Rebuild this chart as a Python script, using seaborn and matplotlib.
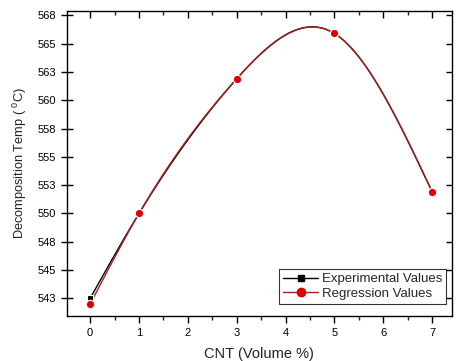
import numpy as np
import pandas as pd
import matplotlib
matplotlib.use("Agg")
import matplotlib.pyplot as plt
import seaborn as sns
from matplotlib.lines import Line2D
from matplotlib.ticker import MultipleLocator

# Data
cnt = [0, 1, 3, 5, 7]
experimental = [542.5, 550.0, 561.9, 565.9, 551.9]
regression = [542.0, 550.0, 561.9, 565.9, 551.9]
y_ticks = [542.5, 545, 547.5, 550, 552.5, 555, 557.5, 560, 562.5, 565, 567.5]
y_tick_labels = ["543", "545", "548", "550", "553", "555", "558", "560", "563", "565", "568"]
x_ticks = [0, 1, 2, 3, 4, 5, 6, 7]


def natural_spline(xs, ys, n=300):
    xs = np.asarray(xs, float)
    ys = np.asarray(ys, float)
    k = len(xs)
    h = np.diff(xs)
    A = np.zeros((k, k))
    b = np.zeros(k)
    A[0, 0] = 1
    A[-1, -1] = 1
    for i in range(1, k - 1):
        A[i, i - 1] = h[i - 1]
        A[i, i] = 2 * (h[i - 1] + h[i])
        A[i, i + 1] = h[i]
        b[i] = 6 * ((ys[i + 1] - ys[i]) / h[i] - (ys[i] - ys[i - 1]) / h[i - 1])
    M = np.linalg.solve(A, b)
    xx = np.linspace(xs[0], xs[-1], n)
    yy = np.empty_like(xx)
    for j, x in enumerate(xx):
        i = min(np.searchsorted(xs, x, side="right") - 1, k - 2)
        t1 = xs[i + 1] - x
        t0 = x - xs[i]
        yy[j] = (M[i] * t1 ** 3 / (6 * h[i]) + M[i + 1] * t0 ** 3 / (6 * h[i])
                 + (ys[i] / h[i] - M[i] * h[i] / 6) * t1
                 + (ys[i + 1] / h[i] - M[i + 1] * h[i] / 6) * t0)
    return xx, yy


sns.set_theme(style="ticks")
plt.rcParams["font.family"] = ["Liberation Sans", "DejaVu Sans"]
plt.rcParams["mathtext.fontset"] = "custom"
plt.rcParams["mathtext.rm"] = "Liberation Sans"
plt.rcParams["mathtext.it"] = "Liberation Sans"
plt.rcParams["mathtext.bf"] = "Liberation Sans"

fig = plt.figure(figsize=(4.6, 3.61), dpi=100)
ax = fig.add_axes([0.145, 0.125, 0.837, 0.845])

ex_x, ex_y = natural_spline(cnt, experimental)
rg_x, rg_y = natural_spline(cnt, regression)

sns.lineplot(x=ex_x, y=ex_y, ax=ax, color="black", linewidth=1.0, sort=False)
sns.lineplot(x=rg_x, y=rg_y, ax=ax, color="#a82020", linewidth=1.0, sort=False)

df = pd.DataFrame({"cnt": cnt, "exp": experimental, "reg": regression})
ax.plot(df["cnt"], df["exp"], linestyle="none", marker="s", markersize=5,
        color="black", markeredgecolor="white", markeredgewidth=0.8)
ax.plot(df["cnt"], df["reg"], linestyle="none", marker="o", markersize=6,
        color="#dd0000", markeredgecolor="white", markeredgewidth=0.8)

ax.set_xlim(-0.48, 7.4)
ax.set_ylim(540.95, 567.9)
ax.set_xticks(x_ticks)
ax.xaxis.set_minor_locator(MultipleLocator(0.5))
ax.set_yticks(y_ticks)
ax.set_yticklabels(y_tick_labels)

for s in ax.spines.values():
    s.set_visible(True)
    s.set_color("black")
    s.set_linewidth(1.0)

ax.tick_params(axis="x", which="major", direction="out", length=5, width=1,
               labelsize=8, colors="black", top=True)
ax.tick_params(axis="x", which="minor", direction="out", length=3, width=1, top=True)
ax.tick_params(axis="y", which="major", direction="inout", length=8, width=1,
               labelsize=8, colors="black", right=True)
# top and right ticks point inward
for t in ax.xaxis.get_major_ticks() + ax.xaxis.get_minor_ticks():
    t.tick2line.set_marker(3)
for t in ax.yaxis.get_major_ticks():
    t.tick2line.set_marker(0)
    t.tick2line.set_markersize(4)

ax.set_xlabel("CNT (Volume %)", fontsize=10.5, color="#222222", labelpad=7)
ax.set_ylabel("Decomposition Temp ( $^{0}$C)", fontsize=9.2, color="#222222", labelpad=6)

handles = [
    Line2D([0], [0], color="black", lw=1, marker="s", markersize=5),
    Line2D([0], [0], color="#a82020", lw=1, marker="o", markersize=6,
           markerfacecolor="#dd0000", markeredgecolor="#dd0000"),
]
leg = ax.legend(handles, ["Experimental Values", "Regression Values"],
                loc="lower right", bbox_to_anchor=(0.985, 0.04), fontsize=9.5,
                frameon=True, fancybox=False, edgecolor="black",
                handlelength=2.6, handletextpad=0.3, borderpad=0.3,
                labelspacing=0.15, borderaxespad=0)
leg.get_frame().set_linewidth(0.8)

fig.savefig("out.png", dpi=100)
